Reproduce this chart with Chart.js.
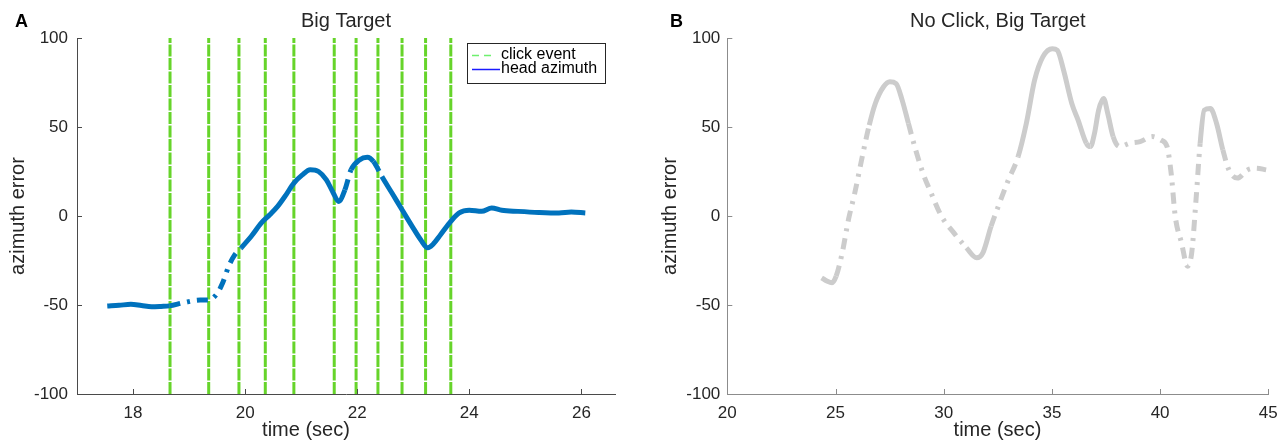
<!DOCTYPE html>
<html>
<head>
<meta charset="utf-8">
<script src="https://cdn.jsdelivr.net/npm/chart.js@4.4.1/dist/chart.umd.min.js"></script>
<style>
html, body { margin: 0; padding: 0; background: #fff; }
#wrap { position: relative; width: 1288px; height: 442px; }
canvas { position: absolute; top: 0; }
#chartA { left: 0; }
#chartB { left: 640px; }
</style>
</head>
<body>
<div id="wrap">
  <canvas id="chartA" width="640" height="442" style="width:640px;height:442px"></canvas>
  <canvas id="chartB" width="648" height="442" style="width:648px;height:442px"></canvas>
</div>
<script>
// panel A: head azimuth error with click events
const timeA = [17.54, 17.75, 17.96, 18.15, 18.33, 18.5, 18.65, 18.9, 19.2, 19.35, 19.49, 19.6, 19.71, 19.82,
  19.93, 20.11, 20.29, 20.44, 20.58, 20.73, 20.87, 21.02, 21.16, 21.31, 21.45, 21.56, 21.67, 21.78, 21.89,
  22.04, 22.18, 22.29, 22.44, 22.62, 22.8, 22.98, 23.13, 23.26, 23.35, 23.49, 23.67, 23.82, 24.0, 24.22,
  24.4, 24.58, 24.87, 25.24, 25.6, 25.82, 26.07];
const azimA = [-50.6, -50.2, -49.6, -50.3, -51, -50.8, -50.5, -48.7, -47.2, -47.2, -44, -37.5, -28, -21.6,
  -17.9, -11.4, -3.9, 0.7, 5.4, 11.9, 18.5, 23.1, 26, 25, 20.3, 13.8, 8.2, 14.7, 26,
  31.5, 33, 30.6, 22.2, 12.9, 3.5, -5.8, -13.2, -17.9, -16, -10.4, -3, 1.7, 3.2, 2.6,
  4.5, 3.2, 2.6, 2, 1.7, 2.2, 1.7];
const clickTimes = [18.66, 19.35, 19.89, 20.36, 20.87, 21.59, 21.98, 22.37, 22.8, 23.22, 23.67];
const xTicksA = [18, 20, 22, 24, 26];

// panel B: no click
const timeB = [24.36, 24.6, 24.84, 25.03, 25.31, 25.6, 25.89, 26.27, 26.56, 26.84, 27.22, 27.51, 27.8,
  28.08, 28.37, 28.66, 29.04, 29.42, 29.9, 30.47, 31.05, 31.52, 31.81, 32.19, 32.58, 32.96, 33.44, 33.82,
  34.2, 34.58, 35.02, 35.25, 35.54, 35.92, 36.21, 36.59, 36.78, 36.97, 37.16, 37.39, 37.58, 37.83, 38.12,
  38.6, 39.08, 39.65, 40.03, 40.32, 40.51, 40.7, 40.99, 41.27, 41.46, 41.66, 41.85, 42.04, 42.32, 42.61,
  42.9, 43.18, 43.57, 44.04, 44.43, 44.9];
const azimB = [-34.7, -36.5, -37.5, -33.8, -20.7, -2, 12.9, 35.3, 51.1, 63.2, 72.6, 75.4, 74.4,
  65.1, 52, 39, 24.1, 12.9, -0.2, -9.5, -17.9, -23.5, -20.7, -5.8, 7.3, 19.4, 33.4, 52.1,
  76.3, 89.4, 94, 93.1, 81.9, 63.2, 53.9, 40.9, 39, 46.5, 59.5, 66, 57.6, 44.6, 39,
  40.9, 41.8, 44.6, 42.7, 39, 24.1, -0.2, -15.1, -28.2, -20.7, 9.1, 40.9, 59.5, 60.4, 52,
  37.1, 25.9, 21.3, 25.9, 26.9, 25.9];
const xTicksB = [20, 25, 30, 35, 40, 45];

const yTicks = [-100, -50, 0, 50, 100];

// where the line is drawn dash-dot
const dashSpansA = [[18.6, 19.95], [21.7, 21.9], [22.29, 22.45]];
const dashSpansB = [[25.0, 26.6], [28.3, 31.1], [32.0, 33.5], [36.5, 36.9], [37.8, 41.9], [42.8, 45]];

const FONT = "'Liberation Sans', Arial, Helvetica, sans-serif";
const TEXT = '#262626';

const points = (xs, ys) => xs.map((x, i) => ({ x: x, y: ys[i] }));

function dashed(spans) {
  return ctx => spans.some(([a, b]) => ctx.p0.parsed.x >= a && ctx.p1.parsed.x <= b) ? [11, 7, 3, 7] : undefined;
}

// inward ticks, titles and legend (MATLAB look)
const decor = {
  id: 'decor',
  afterDraw(chart, args, o) {
    const { ctx, chartArea: a, scales: { x, y } } = chart;
    ctx.save();
    ctx.strokeStyle = o.axisColor;
    ctx.lineWidth = 1;
    ctx.beginPath();
    x.ticks.forEach(t => {
      const px = Math.round(x.getPixelForValue(t.value)) + 0.5;
      ctx.moveTo(px, a.bottom);
      ctx.lineTo(px, a.bottom - 5);
    });
    y.ticks.forEach(t => {
      const py = Math.round(y.getPixelForValue(t.value)) + 0.5;
      ctx.moveTo(a.left, py);
      ctx.lineTo(a.left + 5, py);
    });
    ctx.stroke();

    ctx.fillStyle = TEXT;
    ctx.textBaseline = 'middle';
    ctx.textAlign = 'center';
    ctx.font = '20px ' + FONT;
    ctx.fillText(o.title, (a.left + a.right) / 2, 21);
    ctx.fillText('time (sec)', o.xTitleX, 430);
    ctx.fillStyle = '#000';
    ctx.textAlign = 'left';
    ctx.font = 'bold 18px ' + FONT;
    ctx.fillText(o.letter, o.letterX, 22);

    if (o.legend) {
      ctx.fillStyle = '#fff';
      ctx.fillRect(467.5, 43.5, 138, 40);
      ctx.strokeStyle = TEXT;
      ctx.strokeRect(467.5, 43.5, 138, 40);
      ctx.lineWidth = 1.5;
      ctx.setLineDash([7, 5]);
      ctx.strokeStyle = '#6ef06e';
      ctx.beginPath();
      ctx.moveTo(472, 55.5);
      ctx.lineTo(496, 55.5);
      ctx.stroke();
      ctx.setLineDash([]);
      ctx.strokeStyle = '#1a1aff';
      ctx.beginPath();
      ctx.moveTo(472, 69.5);
      ctx.lineTo(500, 69.5);
      ctx.stroke();
      ctx.fillStyle = '#000';
      ctx.font = '16px ' + FONT;
      ctx.fillText('click event', 501, 55);
      ctx.fillText('head azimuth', 501, 69);
    }
    ctx.restore();
  }
};

function makeChart(id, cfg) {
  return new Chart(document.getElementById(id), {
    type: 'line',
    data: { datasets: cfg.datasets },
    plugins: [decor],
    options: {
      responsive: false,
      animation: false,
      layout: { padding: { top: 38, right: cfg.padRight, left: 0, bottom: 0 } },
      plugins: {
        legend: { display: false },
        tooltip: { enabled: false },
        decor: cfg.decor
      },
      elements: { point: { radius: 0 } },
      scales: {
        x: {
          type: 'linear',
          min: cfg.xMin,
          max: cfg.xMax,
          afterFit: s => { s.height = 48; },
          afterBuildTicks: s => { s.ticks = cfg.xTicks.map(v => ({ value: v })); },
          grid: { drawOnChartArea: false, drawTicks: false },
          border: { color: cfg.decor.axisColor, width: 1 },
          ticks: { color: TEXT, font: { family: FONT, size: 17 }, padding: 9, maxRotation: 0 }
        },
        y: {
          type: 'linear',
          min: -100,
          max: 100,
          afterFit: s => { s.width = cfg.yWidth; },
          afterBuildTicks: s => { s.ticks = yTicks.map(v => ({ value: v })); },
          grid: { drawOnChartArea: false, drawTicks: false },
          border: { color: cfg.decor.axisColor, width: 1 },
          ticks: { color: TEXT, font: { family: FONT, size: 17 }, padding: cfg.yPad },
          title: {
            display: true,
            text: 'azimuth error',
            color: TEXT,
            font: { family: FONT, size: 20 },
            padding: { top: cfg.yTitlePad, bottom: 0 }
          }
        }
      }
    }
  });
}

makeChart('chartA', {
  datasets: [
    {
      label: 'head azimuth',
      data: points(timeA, azimA),
      borderColor: '#0072bd',
      borderWidth: 5,
      cubicInterpolationMode: 'monotone',
      segment: { borderDash: dashed(dashSpansA) }
    },
    ...clickTimes.map(t => ({
      label: 'click event',
      data: [{ x: t, y: -100 }, { x: t, y: 100 }],
      borderColor: '#66d42a',
      borderWidth: 3,
      borderDash: [12, 1.5]
    }))
  ],
  xMin: 17, xMax: 26.6, xTicks: xTicksA,
  padRight: 25, yWidth: 77, yPad: 9, yTitlePad: 6,
  decor: { title: 'Big Target', letter: 'A', letterX: 15, xTitleX: 306, axisColor: '#4a4a4a', legend: true }
});

makeChart('chartB', {
  datasets: [
    {
      label: 'azimuth',
      data: points(timeB, azimB),
      borderColor: '#cccccc',
      borderWidth: 5,
      cubicInterpolationMode: 'monotone',
      segment: { borderDash: dashed(dashSpansB) }
    }
  ],
  xMin: 20, xMax: 45, xTicks: xTicksB,
  padRight: 19.7, yWidth: 87.3, yPad: 7, yTitlePad: 18,
  decor: { title: 'No Click, Big Target', letter: 'B', letterX: 30, xTitleX: 357.5, axisColor: '#8c8c8c', legend: false }
});
</script>
</body>
</html>
